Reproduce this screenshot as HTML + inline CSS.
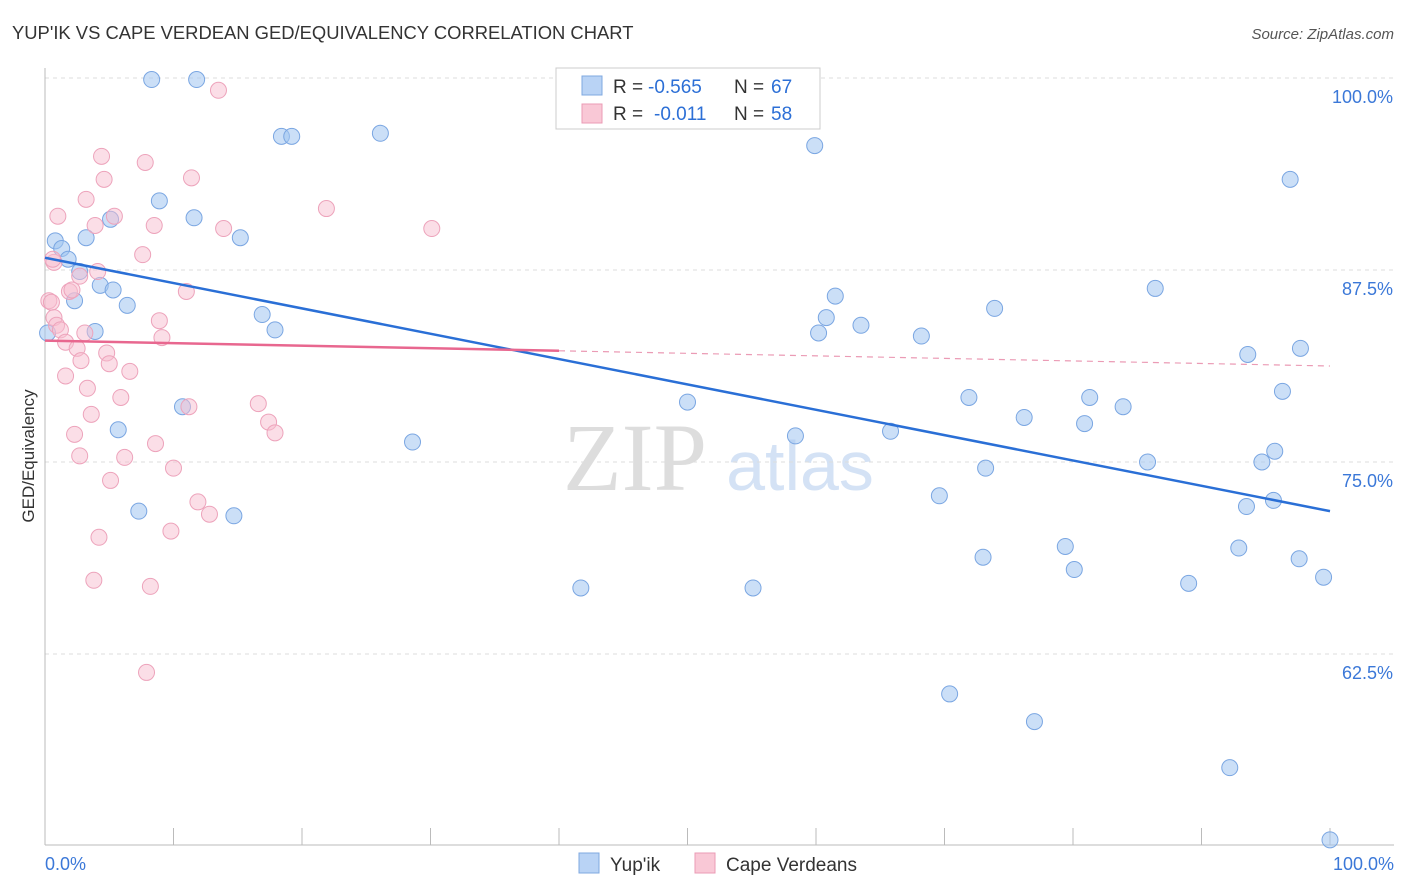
<!DOCTYPE html>
<html><head><meta charset="utf-8">
<style>
body{margin:0;background:#fff;font-family:"Liberation Sans",sans-serif;}
#wrap{position:relative;width:1406px;height:892px;overflow:hidden;}
</style></head>
<body>
<div id="wrap">
<svg id="chart" width="1406" height="892" xmlns="http://www.w3.org/2000/svg">
<text x="12" y="39" font-size="18.4" fill="#333">YUP'IK VS CAPE VERDEAN GED/EQUIVALENCY CORRELATION CHART</text>
<text x="1394" y="39" font-size="15" fill="#555" text-anchor="end" font-style="italic">Source: ZipAtlas.com</text>
<text x="34" y="456" font-size="17" fill="#333" transform="rotate(-90 34 456)" text-anchor="middle">GED/Equivalency</text>
<g>
<text x="635" y="490" font-size="96" fill="#ddd" text-anchor="middle" font-family="Liberation Serif,serif">ZIP</text>
<text x="800" y="490" font-size="70" fill="#d4e2f5" text-anchor="middle">atlas</text>
</g>
<g id="grid"></g>
<g id="axes"></g>
<g id="pts"></g>
<g id="trends"></g>
<g>
<rect x="556" y="68" width="264" height="61" fill="#fff" stroke="#ccc"/>
<rect x="582" y="76" width="20" height="19" fill="#b9d3f5" stroke="#7fa8e0"/>
<text x="613" y="93" font-size="19" fill="#333">R =</text>
<text x="648" y="93" font-size="19" fill="#2c6fd6">-0.565</text>
<text x="734" y="93" font-size="19" fill="#333">N =</text>
<text x="771" y="93" font-size="19" fill="#2c6fd6">67</text>
<rect x="582" y="104" width="20" height="19" fill="#f9c8d6" stroke="#eb9bb5"/>
<text x="613" y="120" font-size="19" fill="#333">R =</text>
<text x="654" y="120" font-size="19" fill="#2c6fd6">-0.011</text>
<text x="734" y="120" font-size="19" fill="#333">N =</text>
<text x="771" y="120" font-size="19" fill="#2c6fd6">58</text>
</g>
<g>
<rect x="579" y="853" width="20" height="20" fill="#b9d3f5" stroke="#7fa8e0"/>
<text x="610" y="871" font-size="19" fill="#333">Yup'ik</text>
<rect x="695" y="853" width="20" height="20" fill="#f9c8d6" stroke="#eb9bb5"/>
<text x="726" y="871" font-size="19" fill="#333">Cape Verdeans</text>
</g>
</svg>
</div>
<script>
const yTicks=[100,87.5,75,62.5];
const yTickLabels=["100.0%","87.5%","75.0%","62.5%"];
const xTickLabels=["0.0%","100.0%"];
const blueX=[8.3,11.8,18.4,19.2,26.1,59.9,96.9,8.9,11.6,5.1,15.2,0.8,3.2,1.3,1.8,2.7,4.3,5.3,2.3,6.4,16.9,17.9,3.9,0.2,61.5,60.8,60.2,63.5,68.2,73.9,86.4,93.6,97.7,71.9,81.3,83.9,76.2,80.9,96.3,50.0,65.8,58.4,28.6,10.7,5.7,95.7,94.7,85.8,73.2,69.6,93.5,95.6,7.3,14.7,79.4,92.9,73.0,97.6,80.1,89.0,99.5,41.7,55.1,70.4,77.0,92.2,100];
const blueY=[99.9,99.9,96.2,96.2,96.4,95.6,93.4,92.0,90.9,90.8,89.6,89.4,89.6,88.9,88.2,87.4,86.5,86.2,85.5,85.2,84.6,83.6,83.5,83.4,85.8,84.4,83.4,83.9,83.2,85.0,86.3,82.0,82.4,79.2,79.2,78.6,77.9,77.5,79.6,78.9,77.0,76.7,76.3,78.6,77.1,75.7,75.0,75.0,74.6,72.8,72.1,72.5,71.8,71.5,69.5,69.4,68.8,68.7,68.0,67.1,67.5,66.8,66.8,59.9,58.1,55.1,50.4];
const pinkX=[13.5,4.4,7.8,11.4,4.6,3.2,1.0,5.4,3.9,8.5,13.9,21.9,30.1,7.6,0.7,0.6,4.1,2.7,1.9,2.1,11.0,0.3,0.5,0.7,0.9,1.2,8.9,9.1,3.1,1.6,2.5,4.8,2.8,5.0,6.6,1.6,3.3,5.9,16.6,11.2,3.6,17.4,17.9,2.3,8.6,2.7,6.2,10.0,5.1,11.9,12.8,9.8,4.2,3.8,8.2,7.9];
const pinkY=[99.2,94.9,94.5,93.5,93.4,92.1,91.0,91.0,90.4,90.4,90.2,91.5,90.2,88.5,88.0,88.2,87.4,87.1,86.1,86.2,86.1,85.5,85.4,84.4,83.9,83.6,84.2,83.1,83.4,82.8,82.4,82.1,81.6,81.4,80.9,80.6,79.8,79.2,78.8,78.6,78.1,77.6,76.9,76.8,76.2,75.4,75.3,74.6,73.8,72.4,71.6,70.5,70.1,67.3,66.9,61.3];
const blueTrend=[88.3,71.8];
const pinkTrend=[82.9,81.25];
const pinkSolidEnd=40;

const NS="http://www.w3.org/2000/svg";
const X0=45,X1=1330,Y0=78,YPER=15.36;
const xs=v=>X0+(X1-X0)*v/100;
const ys=v=>Y0+(100-v)*YPER;
function mk(tag,attrs,parent){const e=document.createElementNS(NS,tag);for(const k in attrs)e.setAttribute(k,attrs[k]);parent.appendChild(e);return e;}
const grid=document.getElementById('grid'),axes=document.getElementById('axes'),pts=document.getElementById('pts'),tr=document.getElementById('trends');
yTicks.forEach((t,i)=>{
 const l=mk('line',{x1:45,x2:1394,y1:ys(t),y2:ys(t),stroke:'#ddd','stroke-dasharray':'4 4'},grid);
 
 
 const tx=mk('text',{x:1393,y:ys(t)+25,'font-size':18,fill:'#3b78d8','text-anchor':'end'},axes);
 tx.textContent=yTickLabels[i];
 
 
});
const ax=mk('line',{x1:45,x2:1394,y1:845,y2:845,stroke:'#bbb'},axes);


const ay=mk('line',{x1:45,x2:45,y1:68,y2:845,stroke:'#bbb'},axes);


for(let i=0;i<=10;i++){const t=mk('line',{x1:xs(i*10),x2:xs(i*10),y1:828,y2:845,stroke:'#bbb'},axes);
 
 }
[[0,'start',45],[100,'end',1394]].forEach((d,i)=>{const t=mk('text',{x:d[2],y:870,'font-size':18,fill:'#3b78d8','text-anchor':d[1]},axes);t.textContent=xTickLabels[i];
 
 });
blueX.forEach((v,i)=>{const c=mk('circle',{cx:xs(v),cy:ys(blueY[i]),r:8,fill:'rgba(160,196,240,0.55)',stroke:'#7aa6e2','stroke-width':1},pts);
 
 });
pinkX.forEach((v,i)=>{const c=mk('circle',{cx:xs(v),cy:ys(pinkY[i]),r:8,fill:'rgba(248,190,208,0.5)',stroke:'#eda3bb','stroke-width':1},pts);
 
 });
const bl=mk('line',{x1:xs(0),y1:ys(blueTrend[0]),x2:xs(100),y2:ys(blueTrend[1]),stroke:'#2a6fd6','stroke-width':2.5},tr);


const pm=pinkTrend[0]+(pinkTrend[1]-pinkTrend[0])*pinkSolidEnd/100;
const pl=mk('line',{x1:xs(0),y1:ys(pinkTrend[0]),x2:xs(pinkSolidEnd),y2:ys(pm),stroke:'#e8678f','stroke-width':2.5},tr);


const pd=mk('line',{x1:xs(pinkSolidEnd),y1:ys(pm),x2:xs(100),y2:ys(pinkTrend[1]),stroke:'#eb9bb5','stroke-width':1.2,'stroke-dasharray':'6 5'},tr);


</script>
</body></html>
